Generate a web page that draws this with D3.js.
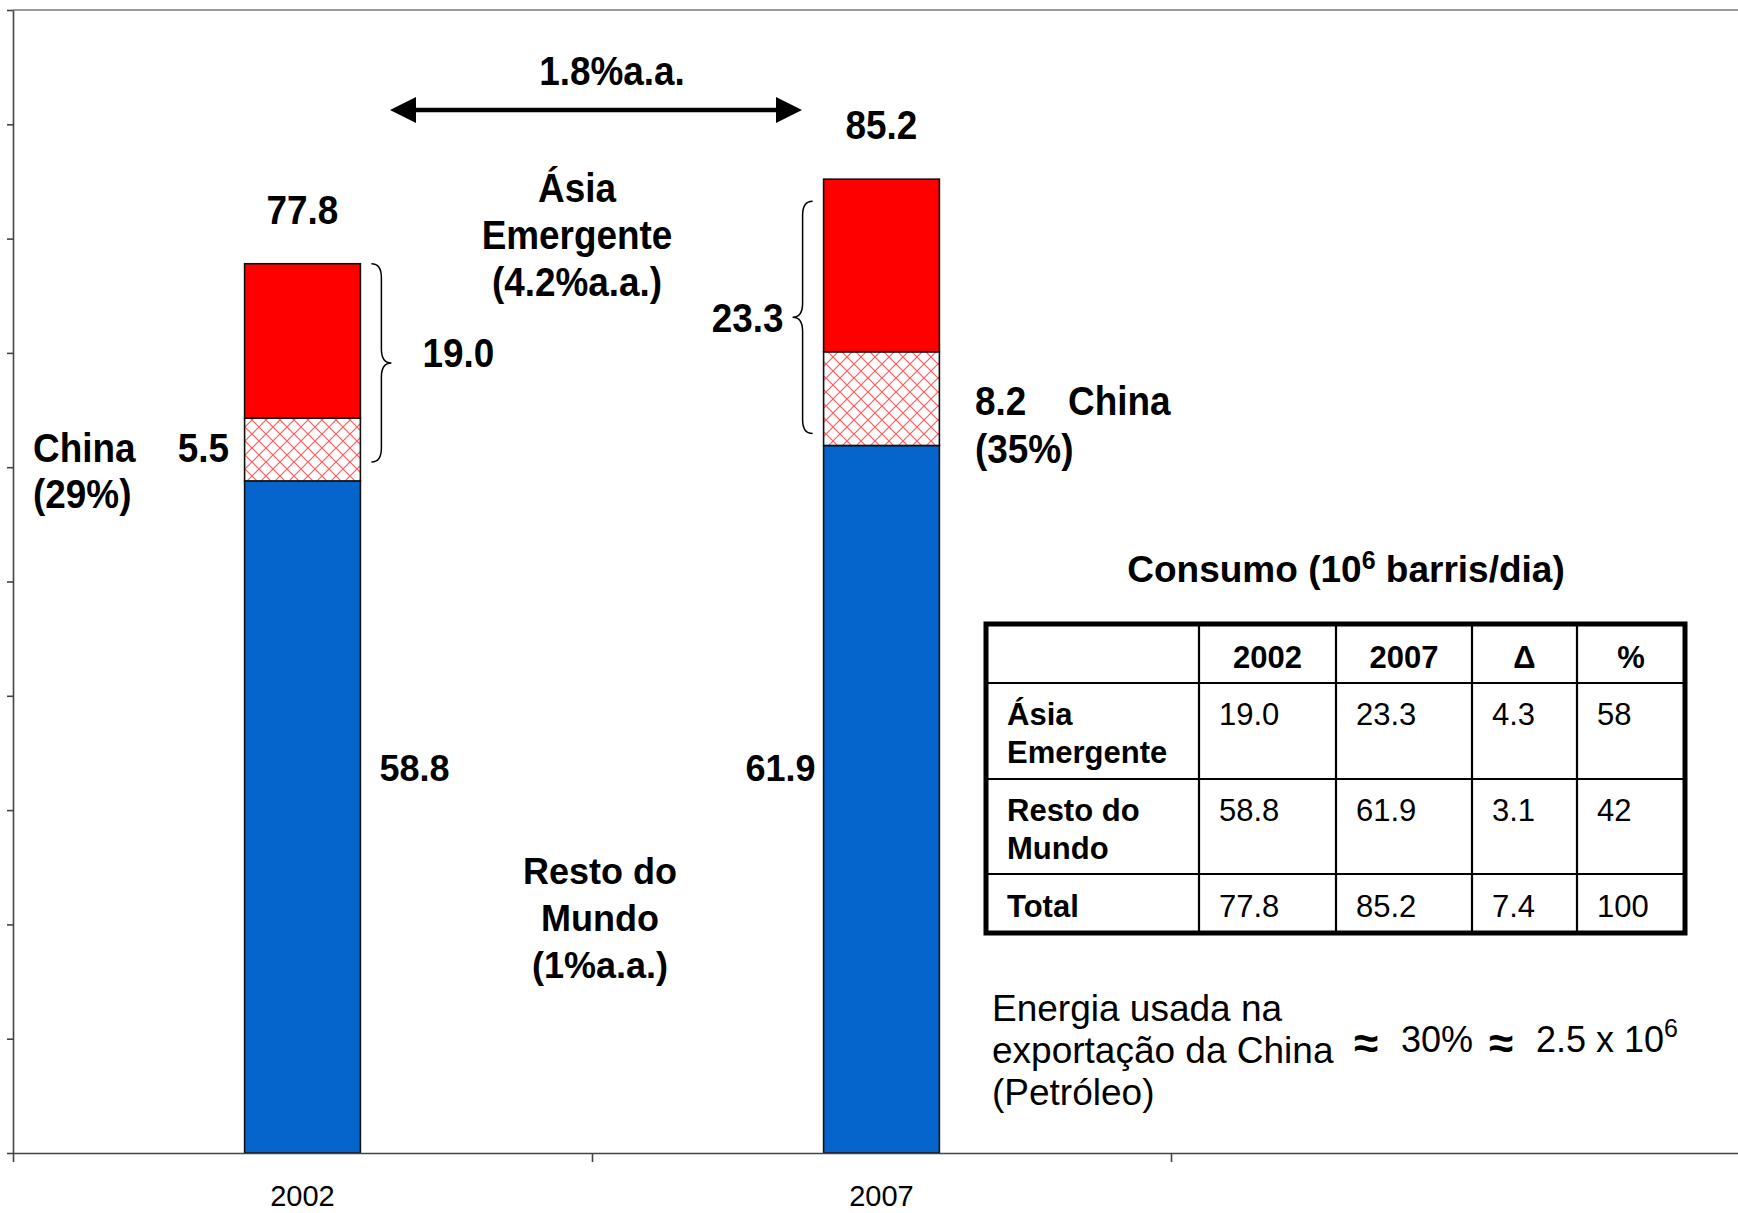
<!DOCTYPE html>
<html>
<head>
<meta charset="utf-8">
<script src="https://cdn.jsdelivr.net/npm/d3@7"></script>
<style>
  body { margin: 0; background: #fff; }
  text { font-family: "Liberation Sans", Arial, sans-serif; fill: #000; }
</style>
</head>
<body>
<script>
// data (10^6 barris/dia)
var years = ["2002", "2007"];
var restoMundo = [58.8, 61.9];
var china = [5.5, 8.2];
var asiaEmergente = [19.0, 23.3];
var totals = [77.8, 85.2];
var chinaShare = ["(29%)", "(35%)"];
var yTicks = d3.range(0, 101, 10);

var tableHeader = ["", "2002", "2007", "Δ", "%"];
var tableRowLabels = [["Ásia", "Emergente"], ["Resto do", "Mundo"], ["Total"]];
var tableValues = [
  ["19.0", "23.3", "4.3", "58"],
  ["58.8", "61.9", "3.1", "42"],
  ["77.8", "85.2", "7.4", "100"]
];

var W = 1738, H = 1213;
var margin = { top: 10, left: 13, bottom: 60 };
var plotBottom = H - margin.bottom;   // 1153
var band = 579;

var svg = d3.select("body").append("svg")
  .attr("width", W).attr("height", H);

var defs = svg.append("defs");
var pat = defs.append("pattern")
  .attr("id", "hatch").attr("patternUnits", "userSpaceOnUse")
  .attr("width", 14).attr("height", 14);
pat.append("rect").attr("width", 14).attr("height", 14).attr("fill", "#fff");
pat.append("path").attr("d", "M0,0L14,14M14,0L0,14")
  .attr("stroke", "#ff5a5a").attr("stroke-width", 1.2);

var y = d3.scaleLinear().domain([0, 100]).range([plotBottom, margin.top]);
var xCat = d3.scaleBand().domain(["2002", "2007", "-"])
  .range([margin.left, margin.left + 3 * band]);
var xEdge = d3.scaleLinear().domain([0, 3]).range([margin.left, margin.left + 3 * band]);
var barW = xCat.bandwidth() * 0.2;

// top border of plot area
svg.append("line")
  .attr("x1", margin.left).attr("x2", W)
  .attr("y1", margin.top).attr("y2", margin.top)
  .attr("stroke", "#999").attr("stroke-width", 2);

// stacked bars
var stackData = years.map(function (yr, i) {
  return { year: yr, resto: restoMundo[i], china: china[i], outra: asiaEmergente[i] - china[i] };
});
var series = d3.stack().keys(["resto", "china", "outra"])(stackData);
var fills = { resto: "#0565cc", china: "url(#hatch)", outra: "#ff0000" };

svg.append("g").selectAll("g")
  .data(series)
  .join("g")
  .attr("fill", function (s) { return fills[s.key]; })
  .selectAll("rect")
  .data(function (s) { return s; })
  .join("rect")
  .attr("x", function (d) { return xCat(d.data.year) + (xCat.bandwidth() - barW) / 2; })
  .attr("y", function (d) { return y(d[1]); })
  .attr("width", barW)
  .attr("height", function (d) { return y(d[0]) - y(d[1]); })
  .attr("stroke", "#111").attr("stroke-width", 1.6);

// axes
var yAxis = svg.append("g")
  .attr("transform", "translate(" + margin.left + ",0)")
  .call(d3.axisLeft(y).tickValues(yTicks).tickFormat("").tickSizeInner(6).tickSizeOuter(0));
yAxis.selectAll("path, line").attr("stroke", "#444").attr("stroke-width", 1.6);

var xAxis = svg.append("g")
  .attr("transform", "translate(0," + plotBottom + ")")
  .call(d3.axisBottom(xEdge).tickValues([0, 1, 2, 3]).tickFormat("").tickSizeInner(9).tickSizeOuter(0));
xAxis.selectAll("path, line").attr("stroke", "#444").attr("stroke-width", 1.6);

svg.append("g").selectAll("text")
  .data(years)
  .join("text")
  .attr("x", function (d) { return xCat(d) + xCat.bandwidth() / 2; })
  .attr("y", plotBottom + 53)
  .attr("text-anchor", "middle")
  .style("font-size", "29px")
  .text(function (d) { return d; });

// helpers
function condense(sel, k) {
  sel.each(function () {
    var w = this.getComputedTextLength();
    d3.select(this).attr("textLength", w * k).attr("lengthAdjust", "spacingAndGlyphs");
  });
}
function label(x, yy, txt, opts) {
  opts = opts || {};
  var t = svg.append("text")
    .attr("x", x).attr("y", yy)
    .attr("text-anchor", opts.anchor || "start")
    .style("font-size", (opts.size || 41) + "px")
    .style("font-weight", opts.weight || "bold")
    .text(txt);
  if (opts.narrow !== false) condense(t, 0.9);
  return t;
}
function cx(i) { return xCat(years[i]) + xCat.bandwidth() / 2; }

// totals above bars
totals.forEach(function (v, i) {
  label(cx(i), y(v) - 40, v.toFixed(1), { anchor: "middle" });
});

// growth arrow
var arrowY = 110, ax1 = 390, ax2 = 802;
svg.append("line")
  .attr("x1", ax1 + 20).attr("x2", ax2 - 20)
  .attr("y1", arrowY).attr("y2", arrowY)
  .attr("stroke", "#000").attr("stroke-width", 4.5);
svg.append("path")
  .attr("d", "M" + ax1 + "," + arrowY + "l26,-13v26z M" + ax2 + "," + arrowY + "l-26,-13v26z")
  .attr("fill", "#000");
label((ax1 + ax2) / 2 + 16, 85, "1.8%a.a.", { anchor: "middle" });

// Ásia Emergente block
["Ásia", "Emergente", "(4.2%a.a.)"].forEach(function (s, i) {
  label(577, 202 + i * 47, s, { anchor: "middle" });
});

// Resto do Mundo block
["Resto do", "Mundo", "(1%a.a.)"].forEach(function (s, i) {
  label(600, 884 + i * 47, s, { anchor: "middle", size: 36, narrow: false });
});

// curly braces
function brace(xb, y0, y1, dir) {
  // dir = 1 points right, -1 points left
  var m = (y0 + y1) / 2, w = 10 * dir, tip = 20 * dir;
  var d = "M" + xb + "," + y0 +
    "Q" + (xb + w) + "," + y0 + " " + (xb + w) + "," + (y0 + 14) +
    "L" + (xb + w) + "," + (m - 14) +
    "Q" + (xb + w) + "," + m + " " + (xb + tip) + "," + m +
    "Q" + (xb + w) + "," + m + " " + (xb + w) + "," + (m + 14) +
    "L" + (xb + w) + "," + (y1 - 14) +
    "Q" + (xb + w) + "," + y1 + " " + xb + "," + y1;
  svg.append("path").attr("d", d).attr("fill", "none")
    .attr("stroke", "#000").attr("stroke-width", 1.5);
}
var rightEdge0 = cx(0) + barW / 2, leftEdge1 = cx(1) - barW / 2;
var b0top = y(totals[0]), b0bot = y(restoMundo[0] + china[0]) + 44;
var b1top = y(totals[1]) + 22, b1bot = y(restoMundo[1]) - 12;
brace(rightEdge0 + 11, b0top, b0bot, 1);
brace(leftEdge1 - 11, b1top, b1bot, -1);

label(rightEdge0 + 62, (b0top + b0bot) / 2 + 4, asiaEmergente[0].toFixed(1));
label(leftEdge1 - 40, (b1top + b1bot) / 2 + 15, asiaEmergente[1].toFixed(1), { anchor: "end" });

// China labels
label(33, 462, "China");
label(229, 462, china[0].toFixed(1), { anchor: "end" });
label(33, 508, chinaShare[0]);
label(975, 415, china[1].toFixed(1));
label(1068, 415, "China");
label(975, 463, chinaShare[1]);

// rest-of-world values
label(rightEdge0 + 19, 781, restoMundo[0].toFixed(1), { size: 36, narrow: false });
label(leftEdge1 - 8, 781, restoMundo[1].toFixed(1), { size: 36, narrow: false, anchor: "end" });

// table title
var title = svg.append("text")
  .attr("x", 1346).attr("y", 582)
  .attr("text-anchor", "middle")
  .style("font-size", "37px").style("font-weight", "bold");
title.append("tspan").text("Consumo (10");
title.append("tspan").attr("dy", -13).style("font-size", "25px").text("6");
title.append("tspan").attr("dy", 13).text(" barris/dia)");

// table
var colX = [986, 1199, 1336, 1472, 1577, 1685];
var rowY = [624, 683, 779, 874, 933];
var tbl = svg.append("g");
colX.slice(1, -1).forEach(function (xx) {
  tbl.append("line").attr("x1", xx).attr("x2", xx).attr("y1", rowY[0]).attr("y2", rowY[4])
    .attr("stroke", "#000").attr("stroke-width", 2.2);
});
rowY.slice(1, -1).forEach(function (yy) {
  tbl.append("line").attr("x1", colX[0]).attr("x2", colX[5]).attr("y1", yy).attr("y2", yy)
    .attr("stroke", "#000").attr("stroke-width", 2.2);
});
tbl.append("rect")
  .attr("x", colX[0]).attr("y", rowY[0])
  .attr("width", colX[5] - colX[0]).attr("height", rowY[4] - rowY[0])
  .attr("fill", "none").attr("stroke", "#000").attr("stroke-width", 5);

tableHeader.forEach(function (h, j) {
  if (!h) return;
  tbl.append("text")
    .attr("x", (colX[j] + colX[j + 1]) / 2).attr("y", 668)
    .attr("text-anchor", "middle")
    .style("font-size", "31px").style("font-weight", "bold")
    .text(h);
});
var rowTextY = [725, 821, 917];
tableRowLabels.forEach(function (lines, r) {
  lines.forEach(function (s, k) {
    tbl.append("text")
      .attr("x", 1007).attr("y", rowTextY[r] + k * 38)
      .style("font-size", "31px").style("font-weight", "bold")
      .text(s);
  });
  tableValues[r].forEach(function (v, j) {
    tbl.append("text")
      .attr("x", colX[j + 1] + 20).attr("y", rowTextY[r])
      .style("font-size", "31px")
      .text(v);
  });
});

// footnote
["Energia usada na", "exportação da China", "(Petróleo)"].forEach(function (s, i) {
  svg.append("text")
    .attr("x", 992).attr("y", 1021 + i * 42)
    .style("font-size", "37px")
    .text(s);
});
var fn = svg.append("g").style("font-size", "36px");
fn.append("text").attr("x", 1354).attr("y", 1058).style("font-size", "44px").style("font-weight", "bold").text("≈");
fn.append("text").attr("x", 1401).attr("y", 1052).text("30%");
fn.append("text").attr("x", 1489).attr("y", 1058).style("font-size", "44px").style("font-weight", "bold").text("≈");
var pw = fn.append("text").attr("x", 1536).attr("y", 1052);
pw.append("tspan").text("2.5 x 10");
pw.append("tspan").attr("dy", -15).style("font-size", "25px").text("6");
</script>
</body>
</html>
